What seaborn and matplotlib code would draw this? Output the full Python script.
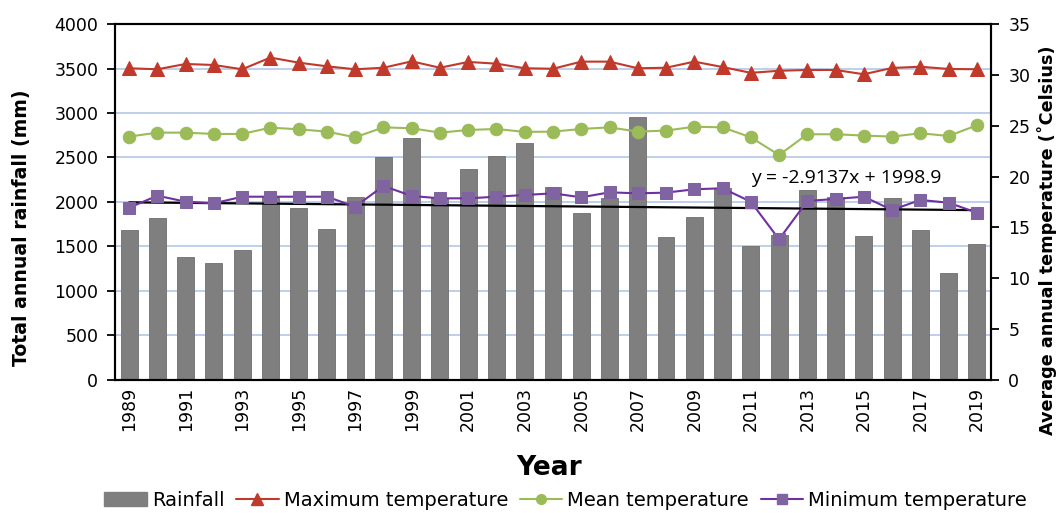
import numpy as np
import pandas as pd
import matplotlib
matplotlib.use("Agg")
import matplotlib.pyplot as plt
import seaborn as sns
from matplotlib.lines import Line2D
from matplotlib.patches import Patch

years = list(range(1989, 2020))
rainfall = [1680, 1820, 1380, 1310, 1460, 2060, 1930, 1700, 2060, 2500,
            2720, 2050, 2370, 2520, 2660, 2170, 1880, 2050, 2960, 1610,
            1830, 2160, 1500, 1630, 2130, 2060, 1620, 2050, 1680, 1200, 1530]
max_temp = [30.65, 30.55, 31.07, 30.97, 30.55, 31.7, 31.2, 30.84, 30.55, 30.7,
            31.33, 30.7, 31.27, 31.1, 30.65, 30.6, 31.3, 31.3, 30.65, 30.7,
            31.3, 30.77, 30.2, 30.4, 30.48, 30.48, 30.06, 30.68, 30.8, 30.58, 30.55]
mean_temp = [23.93, 24.32, 24.32, 24.19, 24.19, 24.81, 24.65, 24.42, 23.86, 24.84,
             24.75, 24.32, 24.58, 24.68, 24.39, 24.42, 24.68, 24.84, 24.42, 24.52,
             24.9, 24.84, 23.86, 22.12, 24.16, 24.16, 24.03, 23.93, 24.26, 23.99, 25.04]
min_temp = [16.94, 18.12, 17.53, 17.37, 18.02, 18.02, 18.02, 18.02, 17.04, 19.08,
            18.09, 17.86, 17.86, 18.02, 18.19, 18.35, 17.96, 18.45, 18.35, 18.42,
            18.75, 18.85, 17.53, 13.83, 17.6, 17.8, 18.02, 16.72, 17.7, 17.43, 16.45]
trend_slope = -2.9137
trend_intercept = 1998.9
trend_label = "y = -2.9137x + 1998.9"

left_ticks = [0, 500, 1000, 1500, 2000, 2500, 3000, 3500, 4000]
right_ticks = [0, 5, 10, 15, 20, 25, 30, 35]

sns.set_theme(style="white")
plt.rcParams['font.family'] = ['DejaVu Sans']
plt.rcParams['text.color'] = 'black'
plt.rcParams['axes.labelcolor'] = 'black'
plt.rcParams['xtick.color'] = 'black'
plt.rcParams['ytick.color'] = 'black'

df = pd.DataFrame({"Year": [str(y) for y in years], "Rainfall": rainfall,
                   "Max": max_temp, "Mean": mean_temp, "Min": min_temp})
df["pos"] = np.arange(len(years))

fig = plt.figure(figsize=(10.61, 5.13), dpi=100)
ax = fig.add_axes([0.1084, 0.2593, 0.8256, 0.6939])

red = "#C0392B"
green = "#9BBB59"
purple_m = "#8064A2"
purple_l = "#7030A0"
gray = "#7F7F7F"
grid_c = "#B4C7E7"

sns.barplot(data=df, x="Year", y="Rainfall", color=gray, width=0.6,
            saturation=1, edgecolor="#6E6E6E", linewidth=0.6, ax=ax, zorder=2)
for t in left_ticks[1:-1]:
    ax.axhline(t, color=grid_c, lw=1.2, zorder=1)

xs = np.arange(1, len(years) + 1)
trend = trend_slope * xs + trend_intercept
ax.plot(df["pos"], trend, color="black", lw=1.6, zorder=4)

ax.set_xlim(-0.5, len(years) - 0.5)
ax.set_ylim(0, 4000)
ax.set_yticks(left_ticks)
ax.set_yticklabels([str(t) for t in left_ticks], fontsize=12.5)
major = list(range(0, len(years), 2))
ax.set_xticks(major)
ax.set_xticklabels([str(years[i]) for i in major], rotation=90, fontsize=12.5)
ax.set_xticks(np.arange(-0.5, len(years) - 0.5, 2), minor=True)
ax.tick_params(axis='x', which='major', length=0, pad=5)
ax.tick_params(axis='x', which='minor', length=6, width=1.3, direction='out', color='black')
ax.tick_params(axis='y', length=6, width=1.3, direction='out', color='black', pad=6)
for s in ax.spines.values():
    s.set_color("black")
    s.set_linewidth(1.5)
ax.set_xlabel("Year", fontsize=19, fontweight='bold')
ax.xaxis.set_label_coords(0.495, -0.21)
ax.set_ylabel("Total annual rainfall (mm)", fontsize=13.6, fontweight='bold')
ax.yaxis.set_label_coords(-0.096, 0.427)
ax.text(22.0, 2270, trend_label, fontsize=14, va='center', ha='left', zorder=6,
        color='black', family=['Open Sans', 'DejaVu Sans'])

ax2 = ax.twinx()
sns.lineplot(x=df["pos"], y=df["Max"], ax=ax2, color=red, marker="^", markersize=10,
             markeredgecolor=red, lw=1.5)
sns.lineplot(x=df["pos"], y=df["Mean"], ax=ax2, color=green, marker="o", markersize=9,
             markeredgecolor=green, lw=1.5)
sns.lineplot(x=df["pos"], y=df["Min"], ax=ax2, color=purple_l, marker="s", markersize=8.5,
             markerfacecolor=purple_m, markeredgecolor=purple_m, lw=1.5)
ax2.set_ylim(0, 35)
ax2.set_yticks(right_ticks)
ax2.set_yticklabels([str(t) for t in right_ticks], fontsize=12.5)
ax2.tick_params(axis='y', length=6, width=1.3, direction='out', color='black', pad=6.5)
ax2.set_ylabel("Average annual temperature (\u02daCelsius)", fontsize=12.7,
               fontweight='bold')
ax2.yaxis.set_label_coords(1.053, 0.393)
ax2.set_xlim(-0.5, len(years) - 0.5)
for s in ax2.spines.values():
    s.set_color("black")
    s.set_linewidth(1.5)

handles = [
    Patch(facecolor=gray, edgecolor=gray),
    Line2D([0], [0], color=red, marker="^", markersize=8, lw=1.5),
    Line2D([0], [0], color=green, marker="o", markersize=7, lw=1.5),
    Line2D([0], [0], color=purple_l, marker="s", markersize=7,
           markerfacecolor=purple_m, markeredgecolor=purple_m, lw=1.5),
]
labels = ["Rainfall", "Maximum temperature", "Mean temperature", "Minimum temperature"]
fig.legend(handles, labels, loc="center", bbox_to_anchor=(0.533, 0.025), ncol=4,
           frameon=False, fontsize=14, handlelength=2.2, handletextpad=0.25,
           columnspacing=0.6, handleheight=0.75)

fig.savefig("out.png", dpi=100)
